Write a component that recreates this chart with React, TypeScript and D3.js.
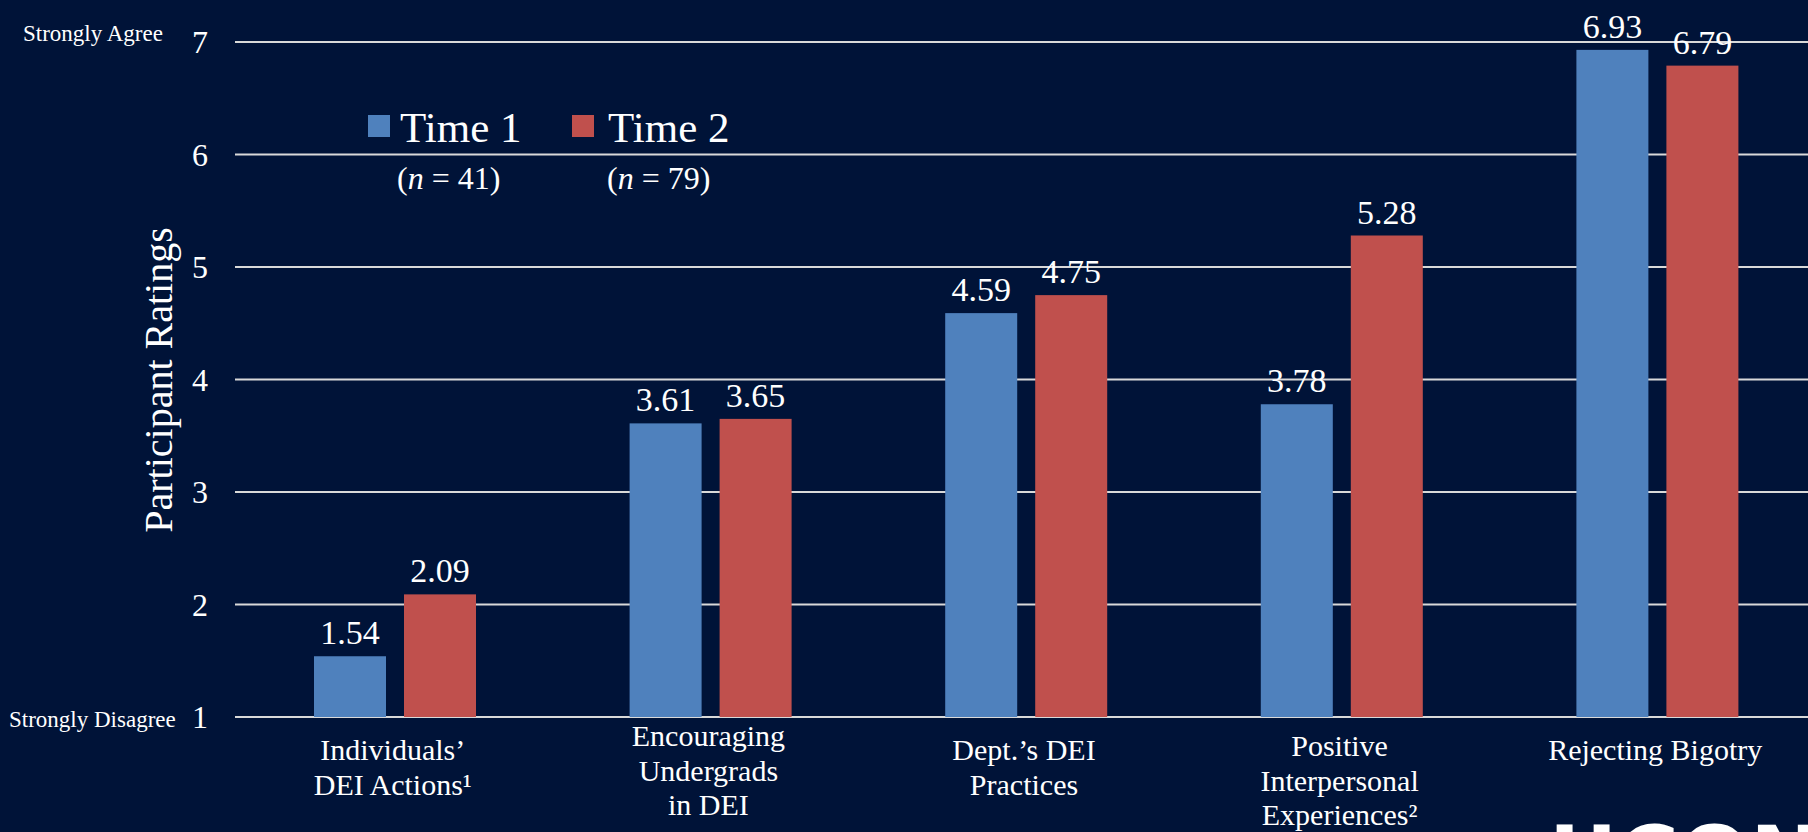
import React from "react";
import * as d3 from "d3";

// Mean agreement ratings (1 = Strongly Disagree, 7 = Strongly Agree)
const categories = [
  "Individuals' DEI Actions",
  "Encouraging Undergrads in DEI",
  "Dept.'s DEI Practices",
  "Positive Interpersonal Experiences",
  "Rejecting Bigotry",
];
const categoryLines = [
  ["Individuals\u2019", "DEI Actions\u00B9"],
  ["Encouraging", "Undergrads", "in DEI"],
  ["Dept.\u2019s DEI", "Practices"],
  ["Positive", "Interpersonal", "Experiences\u00B2"],
  ["Rejecting Bigotry"],
];
const series = ["Time 1", "Time 2"];
const sampleSizes = [41, 79];
const time1 = [1.54, 3.61, 4.59, 3.78, 6.93];
const time2 = [2.09, 3.65, 4.75, 5.28, 6.79];
const yTicks = [1, 2, 3, 4, 5, 6, 7];

const W = 1808;
const H = 832;
const BG = "#001338";
const COLORS = ["#4F81BD", "#C0504D"];
const GRID = "#D9D9D9";
const FONT = "'Liberation Serif', 'DejaVu Serif', serif";

// label layout (first baseline per category, legend anchors)
const LABEL_BASELINE = [760, 746, 760, 756, 760];
const LABEL_LEADING = 34.5;
const LEGEND_SWATCH_X = [368, 572];
const LEGEND_TEXT_X = [400, 608];
const LEGEND_N_X = [397, 607];

export default function App() {
  const x0 = d3.scaleBand<string>().domain(categories).range([235, 1813]).paddingInner(0).paddingOuter(0);
  const x1 = d3.scaleBand<string>().domain(series).range([79, 241]).paddingInner(0.2).paddingOuter(0);
  const y = d3.scaleLinear().domain([1, 7]).range([717, 42]);
  const values = [time1, time2];

  return (
    <svg
      width={W}
      height={H}
      viewBox={`0 0 ${W} ${H}`}
      style={{ position: "absolute", left: 0, top: 0, display: "block" }}
      fontFamily={FONT}
    >
      <rect x={0} y={0} width={W} height={H} fill={BG} />

      {/* gridlines */}
      {yTicks.map((t) => (
        <line key={`g${t}`} x1={235} x2={W} y1={y(t)} y2={y(t)} stroke={GRID} strokeWidth={2} />
      ))}

      {/* y tick labels */}
      {yTicks.map((t) => (
        <text key={`t${t}`} x={208} y={y(t) + 11} textAnchor="end" fontSize={32} fill="#fff">
          {t}
        </text>
      ))}

      <text x={23} y={41} fontSize={23} fill="#fff">Strongly Agree</text>
      <text x={9} y={727} fontSize={23} fill="#fff">Strongly Disagree</text>

      <text transform={`translate(${172},${380}) rotate(-90)`} textAnchor="middle" fontSize={40} fill="#fff">
        Participant Ratings
      </text>

      {/* bars and value labels */}
      {categories.map((c, i) =>
        series.map((s, k) => {
          const v = values[k][i];
          const bx = (x0(c) ?? 0) + (x1(s) ?? 0);
          const bw = x1.bandwidth();
          return (
            <g key={`${c}-${s}`}>
              <rect x={bx} y={y(v)} width={bw} height={y(1) - y(v)} fill={COLORS[k]} />
              <text x={bx + bw / 2} y={y(v) - 12} textAnchor="middle" fontSize={34} fill="#fff">
                {v.toFixed(2)}
              </text>
            </g>
          );
        })
      )}

      {/* category labels */}
      {categories.map((c, i) => {
        const cx = (x0(c) ?? 0) + x0.bandwidth() / 2;
        return (
          <text key={`c${i}`} x={cx} textAnchor="middle" fontSize={30} fill="#fff">
            {categoryLines[i].map((ln, j) => (
              <tspan key={j} x={cx} y={LABEL_BASELINE[i] + j * LABEL_LEADING}>
                {ln}
              </tspan>
            ))}
          </text>
        );
      })}

      {/* legend */}
      {series.map((s, k) => (
        <g key={`l${s}`}>
          <rect x={LEGEND_SWATCH_X[k]} y={115} width={22} height={22} fill={COLORS[k]} />
          <text x={LEGEND_TEXT_X[k]} y={142} fontSize={43} fill="#fff">{s}</text>
          <text x={LEGEND_N_X[k]} y={189} fontSize={32} fill="#fff">
            (<tspan fontStyle="italic">n</tspan> = {sampleSizes[k]})
          </text>
        </g>
      ))}

      {/* university wordmark, cropped at the slide edge */}
      <text
        x={1549}
        y={886}
        fontFamily="'DejaVu Sans', sans-serif"
        fontWeight="bold"
        fontSize={84}
        fill="#fff"
      >
        UCONN
      </text>
    </svg>
  );
}
